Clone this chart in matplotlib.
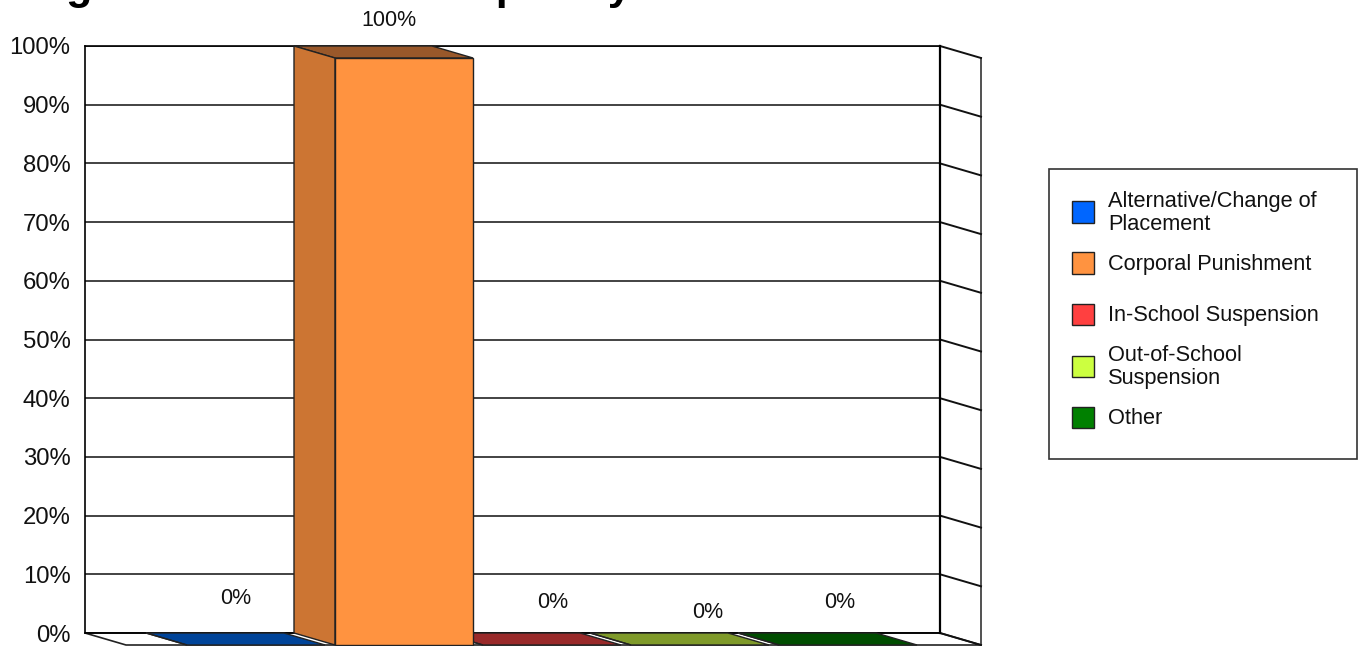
import matplotlib
matplotlib.use('Agg')
import matplotlib.pyplot as plt
from matplotlib.patches import Polygon, Rectangle
import numpy as np

plt.rcParams['font.family'] = ['Liberation Sans', 'DejaVu Sans']

# The title sits mostly above the top of the image, only descenders show
title = 'Figure 1: Sanction Frequency'
categories = ['Alternative/Change of\nPlacement', 'Corporal Punishment', 'In-School Suspension',
              'Out-of-School\nSuspension', 'Other']
values = [0, 100, 0, 0, 0]
value_labels = ['0%', '100%', '0%', '0%', '0%']
yticks = list(range(0, 101, 10))

front_colors = ['#0066ff', '#ff9340', '#ff4040', '#ccff40', '#008000']
side_colors = ['#0052cc', '#cc7533', '#cc3333', '#a3cc33', '#006600']
top_colors = ['#004499', '#99582a', '#992a2a', '#7f9a2a', '#004d00']

W, H = 1364, 646
# pixel layout of the back wall and the depth of the 3d effect
wall_l, wall_r, wall_t, wall_b = 85, 940, 46, 633
pitch_px, bar0_px, bar_w_px = 148, 215, 138
depth_x_px, depth_y_px = 41, 12
# where the value labels sit, in pixels from top left
label_px = [(236, 599), (389, 21), (553, 602), (708, 612), (840, 602)]
legend_y_px = [212, 263, 314, 366, 417]

fig = plt.figure(figsize=(W / 100, H / 100), dpi=100)
ax = fig.add_axes([wall_l / W, (H - wall_b) / H, (wall_r - wall_l) / W, (wall_b - wall_t) / H])
ax.set_xlim((wall_l - bar0_px) / pitch_px, (wall_r - bar0_px) / pitch_px)
ax.set_ylim(0, 100)

dx = depth_x_px / pitch_px
dy = depth_y_px / (wall_b - wall_t) * 100
bar_w = bar_w_px / pitch_px
x0, x1 = ax.get_xlim()

# back wall
ax.set_yticks(yticks)
ax.set_yticklabels([f'{t}%' for t in yticks], fontsize=17.2, color='#111111')
ax.set_xticks([])
ax.tick_params(axis='y', length=0, pad=10.5)
ax.grid(True, axis='y', color='#222222', lw=1.2)
ax.set_axisbelow(True)
for s in ax.spines.values():
    s.set_color('black')
    s.set_linewidth(1.2)
ax.spines['right'].set_linewidth(1.6)

# floor and right wall
ax.add_patch(Polygon([(x0, 0), (x1, 0), (x1 + dx, -dy), (x0 + dx, -dy)], closed=True,
                     fc='white', ec='#222222', lw=1.2, clip_on=False, zorder=2))
ax.plot([x1 + dx, x1 + dx], [-dy, 100 - dy], color='#333333', lw=1.2, clip_on=False, zorder=2)
for t in yticks:
    ax.plot([x1, x1 + dx], [t, t - dy], color='#111111', lw=1.4, clip_on=False, zorder=2)

# 3d bars
for i, v in enumerate(values):
    left = i - bar_w / 2
    right = i + bar_w / 2
    ax.add_patch(Polygon([(left, v), (right, v), (right + dx, v - dy), (left + dx, v - dy)], closed=True,
                         fc=top_colors[i], ec='#222222', lw=1, clip_on=False, zorder=3))
    ax.add_patch(Polygon([(left, 0), (left, v), (left + dx, v - dy), (left + dx, -dy)], closed=True,
                         fc=side_colors[i], ec='#222222', lw=1, clip_on=False, zorder=3))
    if v > 0:
        ax.bar(i + dx, v, width=bar_w, bottom=-dy, color=front_colors[i], edgecolor='#222222',
               lw=1, clip_on=False, zorder=4)

for lab, (px, py) in zip(value_labels, label_px):
    fig.text(px / W, 1 - py / H, lab, ha='center', va='center', fontsize=15.5, color='#111111')

# title, cut off by the top edge
fig.text(28 / W, 1 + 1 / H, title, ha='left', va='baseline', fontsize=31, fontweight='bold', color='black')

# legend
fig.add_artist(Rectangle((1049 / W, 1 - 459 / H), 308 / W, 290 / H, transform=fig.transFigure,
                         fc='white', ec='#333333', lw=1.2))
for cat, col, ly in zip(categories, front_colors, legend_y_px):
    fig.add_artist(Rectangle((1072 / W, 1 - (ly + 10.5) / H), 22 / W, 21 / H, transform=fig.transFigure,
                             fc=col, ec='#222222', lw=1))
    fig.text(1108 / W, 1 - (ly + 1) / H, cat, ha='left', va='center', fontsize=15.7, color='#111111',
             linespacing=1.15)

fig.savefig('out.png', dpi=100)
